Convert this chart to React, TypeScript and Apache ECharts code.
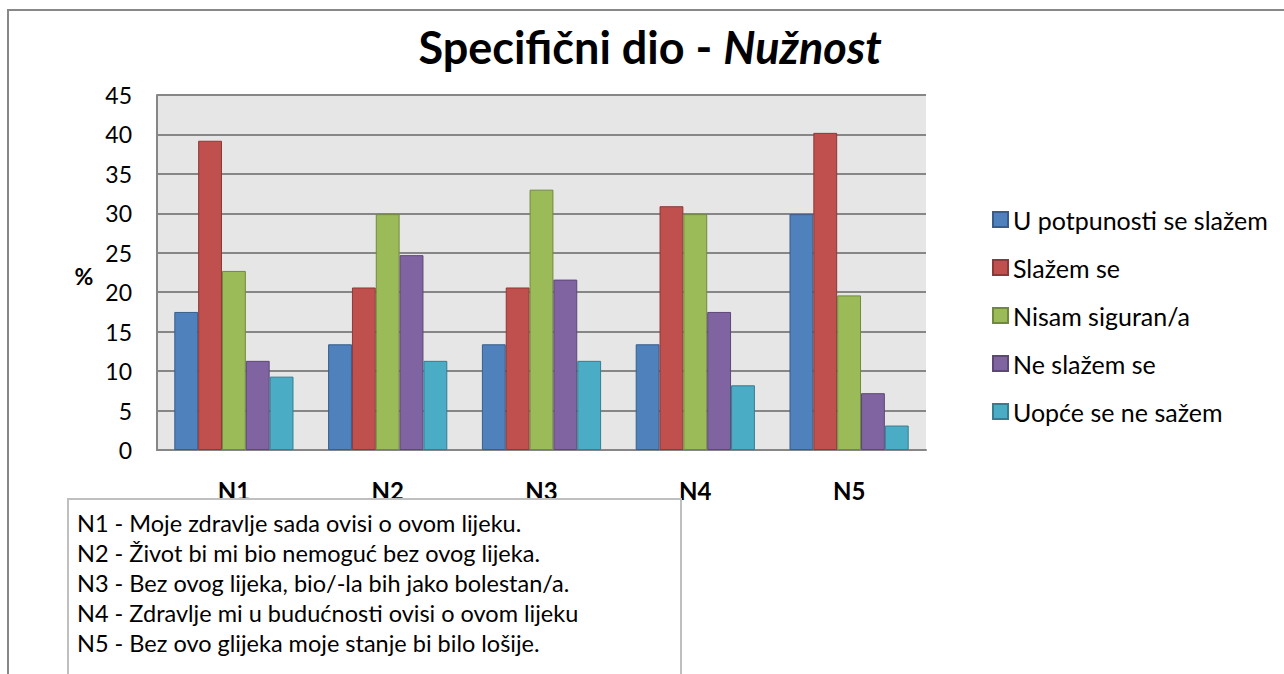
import React, { useEffect, useRef } from "react";
import * as echarts from "echarts";

const categories = ["N1", "N2", "N3", "N4", "N5"];
const seriesNames = [
  "U potpunosti se slažem",
  "Slažem se",
  "Nisam siguran/a",
  "Ne slažem se",
  "Uopće se ne sažem",
];
const uPotpunosti = [17.5, 13.4, 13.4, 13.4, 29.9];
const slazem = [39.2, 20.6, 20.6, 30.9, 40.2];
const nisamSiguran = [22.7, 29.9, 33.0, 29.9, 19.6];
const neSlazem = [11.3, 24.7, 21.6, 17.5, 7.2];
const uopce = [9.3, 11.3, 11.3, 8.2, 3.1];
const yTicks = { min: 0, max: 45, interval: 5 };
const noteLines = [
  "N1 - Moje zdravlje sada ovisi o ovom lijeku.",
  "N2 - Život bi mi bio nemoguć bez ovog lijeka.",
  "N3 - Bez ovog lijeka, bio/-la bih jako bolestan/a.",
  "N4 - Zdravlje mi u budućnosti ovisi o ovom lijeku",
  "N5 - Bez ovo glijeka moje stanje bi bilo lošije.",
];

const fills = ["#4f81bd", "#c0504d", "#9bbb59", "#8064a2", "#4bacc6"];
const borders = ["#385d8a", "#8c3836", "#71893f", "#5c4776", "#357d91"];
const FONT = "Lato, 'Open Sans', sans-serif";

export default function App() {
  const ref = useRef<HTMLDivElement>(null);
  useEffect(() => {
    if (!ref.current) return;
    const chart = echarts.init(ref.current, undefined, { renderer: "svg" });
    const data = [uPotpunosti, slazem, nisamSiguran, neSlazem, uopce];
    chart.setOption({
      animation: false,
      backgroundColor: "#ffffff",
      textStyle: { fontFamily: FONT },
      grid: {
        left: 157,
        right: 1284 - 926,
        top: 95,
        bottom: 674 - 450,
        show: true,
        backgroundColor: "#e6e6e6",
        borderWidth: 0,
      },
      xAxis: {
        type: "category",
        data: categories,
        axisLine: { show: true, lineStyle: { color: "#868686", width: 2 } },
        axisTick: { show: false },
        axisLabel: {
          fontFamily: FONT,
          fontSize: 24,
          fontWeight: "bold",
          color: "#000",
          margin: 28,
        },
      },
      yAxis: {
        type: "value",
        min: yTicks.min,
        max: yTicks.max,
        interval: yTicks.interval,
        axisLine: { show: true, lineStyle: { color: "#868686", width: 2 } },
        axisTick: { show: false },
        splitLine: { show: true, lineStyle: { color: "#868686", width: 2 } },
        axisLabel: { fontFamily: FONT, fontSize: 23, color: "#000", margin: 25 },
      },
      legend: {
        orient: "vertical",
        left: 992,
        top: 207,
        padding: 0,
        icon: "rect",
        itemWidth: 15,
        itemHeight: 15,
        itemGap: 23,
        data: seriesNames,
        textStyle: { fontFamily: FONT, fontSize: 25, lineHeight: 25, color: "#000" },
      },
      series: seriesNames.map((name, i) => ({
        name,
        type: "bar",
        data: data[i],
        barGap: "0%",
        barCategoryGap: "22.5%",
        itemStyle: { color: fills[i], borderColor: borders[i], borderWidth: 1 },
      })),
      graphic: [
        {
          type: "rect",
          shape: { x: 8, y: 10, width: 1300, height: 700 },
          style: { fill: "none", stroke: "#888888", lineWidth: 2 },
          silent: true,
          z: -10,
        },
        {
          type: "text",
          x: 650,
          y: 47,
          style: {
            text: "{a|Specifični dio - }{b|Nužnost}",
            align: "center",
            verticalAlign: "middle",
            rich: {
              a: { fontFamily: FONT, fontSize: 45, fontWeight: "bold", fill: "#000" },
              b: { fontFamily: FONT, fontSize: 45, fontWeight: "bold", fontStyle: "italic", fill: "#000" },
            },
          },
        },
        {
          type: "text",
          x: 84,
          y: 276,
          style: {
            text: "%",
            fontFamily: FONT,
            fontSize: 23,
            fontWeight: "bold",
            fill: "#000",
            align: "center",
            verticalAlign: "middle",
          },
        },
        {
          type: "rect",
          shape: { x: 68, y: 499, width: 613, height: 200 },
          style: { fill: "#ffffff", stroke: "#bfbfbf", lineWidth: 2 },
          z: 10,
        },
        ...noteLines.map((t, i) => ({
          type: "text",
          x: 77,
          y: 523 + i * 30,
          z: 11,
          style: {
            text: t,
            fontFamily: FONT,
            fontSize: 23.5,
            fill: "#000",
            align: "left",
            verticalAlign: "middle",
          },
        })),
      ],
    });
    return () => chart.dispose();
  }, []);
  return (
    <div
      ref={ref}
      style={{ position: "fixed", left: 0, top: 0, width: 1284, height: 674 }}
    />
  );
}
